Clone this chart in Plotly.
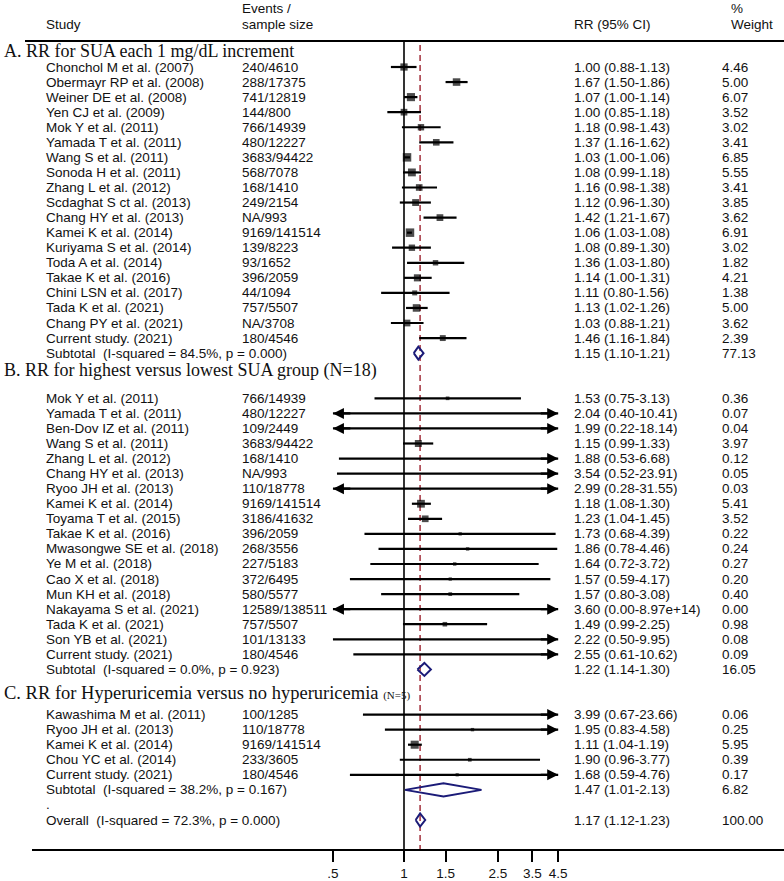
import math
import plotly.graph_objects as go

# ---------------- data ----------------
names_A = ["Chonchol M et al. (2007)", "Obermayr RP et al. (2008)", "Weiner DE et al. (2008)",
           "Yen CJ et al. (2009)", "Mok Y et al. (2011)", "Yamada T et al. (2011)",
           "Wang S et al. (2011)", "Sonoda H et al. (2011)", "Zhang L et al. (2012)",
           "Scdaghat S ct al. (2013)", "Chang HY et al. (2013)", "Kamei K et al. (2014)",
           "Kuriyama S et al. (2014)", "Toda A et al. (2014)", "Takae K et al. (2016)",
           "Chini LSN et al. (2017)", "Tada K et al. (2021)", "Chang PY et al. (2021)",
           "Current study. (2021)"]
events_A = ["240/4610", "288/17375", "741/12819", "144/800", "766/14939", "480/12227",
            "3683/94422", "568/7078", "168/1410", "249/2154", "NA/993", "9169/141514",
            "139/8223", "93/1652", "396/2059", "44/1094", "757/5507", "NA/3708", "180/4546"]
rr_A = [1.00, 1.67, 1.07, 1.00, 1.18, 1.37, 1.03, 1.08, 1.16, 1.12, 1.42, 1.06, 1.08, 1.36,
        1.14, 1.11, 1.13, 1.03, 1.46]
lo_A = [0.88, 1.50, 1.00, 0.85, 0.98, 1.16, 1.00, 0.99, 0.98, 0.96, 1.21, 1.03, 0.89, 1.03,
        1.00, 0.80, 1.02, 0.88, 1.16]
hi_A = [1.13, 1.86, 1.14, 1.18, 1.43, 1.62, 1.06, 1.18, 1.38, 1.30, 1.67, 1.08, 1.30, 1.80,
        1.31, 1.56, 1.26, 1.21, 1.84]
w_A = [4.46, 5.00, 6.07, 3.52, 3.02, 3.41, 6.85, 5.55, 3.41, 3.85, 3.62, 6.91, 3.02, 1.82,
       4.21, 1.38, 5.00, 3.62, 2.39]
sub_A = dict(rr=1.15, lo=1.10, hi=1.21, w=77.13, label="Subtotal  (I-squared = 84.5%, p = 0.000)")

names_B = ["Mok Y et al. (2011)", "Yamada T et al. (2011)", "Ben-Dov IZ et al. (2011)",
           "Wang S et al. (2011)", "Zhang L et al. (2012)", "Chang HY et al. (2013)",
           "Ryoo JH et al. (2013)", "Kamei K et al. (2014)", "Toyama T et al. (2015)",
           "Takae K et al. (2016)", "Mwasongwe SE et al. (2018)", "Ye M et al. (2018)",
           "Cao X et al. (2018)", "Mun KH et al. (2018)", "Nakayama S et al. (2021)",
           "Tada K et al. (2021)", "Son YB et al. (2021)", "Current study. (2021)"]
events_B = ["766/14939", "480/12227", "109/2449", "3683/94422", "168/1410", "NA/993",
            "110/18778", "9169/141514", "3186/41632", "396/2059", "268/3556", "227/5183",
            "372/6495", "580/5577", "12589/138511", "757/5507", "101/13133", "180/4546"]
rr_B = [1.53, 2.04, 1.99, 1.15, 1.88, 3.54, 2.99, 1.18, 1.23, 1.73, 1.86, 1.64, 1.57, 1.57,
        3.60, 1.49, 2.22, 2.55]
lo_B = [0.75, 0.40, 0.22, 0.99, 0.53, 0.52, 0.28, 1.08, 1.04, 0.68, 0.78, 0.72, 0.59, 0.80,
        0.00, 0.99, 0.50, 0.61]
hi_B = [3.13, 10.41, 18.14, 1.33, 6.68, 23.91, 31.55, 1.30, 1.45, 4.39, 4.46, 3.72, 4.17, 3.08,
        8.97e14, 2.25, 9.95, 10.62]
w_B = [0.36, 0.07, 0.04, 3.97, 0.12, 0.05, 0.03, 5.41, 3.52, 0.22, 0.24, 0.27, 0.20, 0.40,
       0.00, 0.98, 0.08, 0.09]
sub_B = dict(rr=1.22, lo=1.14, hi=1.30, w=16.05, label="Subtotal  (I-squared = 0.0%, p = 0.923)")

names_C = ["Kawashima M et al. (2011)", "Ryoo JH et al. (2013)", "Kamei K et al. (2014)",
           "Chou YC et al. (2014)", "Current study. (2021)"]
events_C = ["100/1285", "110/18778", "9169/141514", "233/3605", "180/4546"]
rr_C = [3.99, 1.95, 1.11, 1.90, 1.68]
lo_C = [0.67, 0.83, 1.04, 0.96, 0.59]
hi_C = [23.66, 4.58, 1.19, 3.77, 4.76]
w_C = [0.06, 0.25, 5.95, 0.39, 0.17]
sub_C = dict(rr=1.47, lo=1.01, hi=2.13, w=6.82, label="Subtotal  (I-squared = 38.2%, p = 0.167)")

overall = dict(rr=1.17, lo=1.12, hi=1.23, w=100.00, label="Overall  (I-squared = 72.3%, p = 0.000)")

header_A = "A. RR for SUA each 1 mg/dL increment"
header_B = "B. RR for highest versus lowest SUA group (N=18)"
header_C = "C. RR for Hyperuricemia versus no hyperuricemia "
header_C_small = "(N=5)"

tick_vals = [0.5, 1, 1.5, 2.5, 3.5, 4.5]
tick_text = [".5", "1", "1.5", "2.5", "3.5", "4.5"]
clip_lo, clip_hi = 0.5, 4.5

# ---------------- layout constants ----------------
W, H = 784, 881
PLOT_BOTTOM = 849
ROW0, DY = 67.0, 15.06
X_ONE, PX_LN = 404.0, 102.5
AX_LEFT = 32
X_NAME, X_EV, X_RR, X_W = 44, 240, 572, 720
SANS = "Liberation Sans, Arial, sans-serif"
SERIF = "Liberation Serif, Times New Roman, serif"
FS = 13.5
NAVY = "#1b1b78"
RED = "#a3303c"


def row_y(r):
    return ROW0 + r * DY


def px_to_log10(px):
    return (px - X_ONE) / PX_LN / math.log(10)


def fmt_ci(rr, lo, hi):
    h = f"{hi:.2e}" if hi >= 1000 else f"{hi:.2f}"
    return f"{rr:.2f} ({lo:.2f}-{h})"


fig = go.Figure()
ann = []


def text(x, y, s, size=FS, family=SANS):
    ann.append(dict(x=x / W, xref="paper", y=y, yref="y", text=s, showarrow=False,
                    xanchor="left", yanchor="middle",
                    font=dict(family=family, size=size, color="#111")))


def study_rows(names, events, rr, lo, hi, w, r0):
    xs, ys, sizes = [], [], []
    for i in range(len(names)):
        y = row_y(r0 + i)
        text(X_NAME, y, names[i])
        text(X_EV, y, events[i])
        text(X_RR, y, fmt_ci(rr[i], lo[i], hi[i]))
        text(X_W, y, f"{w[i]:.2f}")
        a = max(lo[i], clip_lo)
        b = min(hi[i], clip_hi)
        fig.add_trace(go.Scatter(x=[a, b], y=[y, y], mode="lines",
                                 line=dict(color="black", width=2.2), hoverinfo="skip",
                                 showlegend=False))
        if lo[i] < clip_lo:
            ann.append(dict(x=math.log10(clip_lo), y=y, ax=math.log10(clip_lo) + 0.08, ay=y,
                            xref="x", yref="y", axref="x", ayref="y", text="",
                            showarrow=True, arrowhead=2, arrowsize=1, arrowwidth=2.2,
                            arrowcolor="black"))
        if hi[i] > clip_hi:
            ann.append(dict(x=math.log10(clip_hi), y=y, ax=math.log10(clip_hi) - 0.08, ay=y,
                            xref="x", yref="y", axref="x", ayref="y", text="",
                            showarrow=True, arrowhead=2, arrowsize=1, arrowwidth=2.2,
                            arrowcolor="black"))
        if w[i] >= 0.15:
            xs.append(rr[i])
            ys.append(y)
            sizes.append(2.2 + 2.4 * math.sqrt(w[i]))
    fig.add_trace(go.Scatter(x=xs, y=ys, mode="markers",
                             marker=dict(symbol="square", color="black", size=sizes,
                                         line=dict(width=0)),
                             hoverinfo="skip", showlegend=False))


def diamond(d, r):
    y = row_y(r)
    hh = 6.5
    fig.add_trace(go.Scatter(x=[d["lo"], d["rr"], d["hi"], d["rr"], d["lo"]],
                             y=[y, y - hh, y, y + hh, y], mode="lines",
                             line=dict(color=NAVY, width=2), hoverinfo="skip",
                             showlegend=False))
    text(X_NAME, y, d["label"])
    text(X_RR, y, fmt_ci(d["rr"], d["lo"], d["hi"]))
    text(X_W, y, f"{d['w']:.2f}")


# reference lines
fig.add_trace(go.Scatter(x=[1, 1], y=[41, PLOT_BOTTOM], mode="lines",
                         line=dict(color="black", width=1.6), hoverinfo="skip", showlegend=False))
fig.add_trace(go.Scatter(x=[overall["rr"], overall["rr"]], y=[45, PLOT_BOTTOM], mode="lines",
                         line=dict(color=RED, width=1.5, dash="6px,4px"), hoverinfo="skip",
                         showlegend=False))

# headers
text(X_NAME, 24, "Study")
text(X_EV, 8, "Events /")
text(X_EV, 24, "sample size")
text(X_RR, 24, "RR (95% CI)")
text(729, 8, "%")
text(729, 24, "Weight")

# section A
text(2, 51, header_A, size=18, family=SERIF)
study_rows(names_A, events_A, rr_A, lo_A, hi_A, w_A, 0)
diamond(sub_A, len(names_A))

# section B
rB = len(names_A) + 1
text(2, row_y(rB) + 2, header_B, size=18, family=SERIF)
study_rows(names_B, events_B, rr_B, lo_B, hi_B, w_B, rB + 2)
rSubB = rB + 2 + len(names_B)
diamond(sub_B, rSubB)

# section C
text(2, row_y(rSubB + 1.55), header_C + f"<span style='font-size:11px'>{header_C_small}</span>",
     size=18.5, family=SERIF)
rC = rSubB + 3
study_rows(names_C, events_C, rr_C, lo_C, hi_C, w_C, rC)
rSubC = rC + len(names_C)
diamond(sub_C, rSubC)
text(X_NAME, row_y(rSubC + 1), ".")
diamond(overall, rSubC + 2)

fig.update_layout(
    width=W, height=H,
    margin=dict(l=0, r=0, t=0, b=H - PLOT_BOTTOM),
    paper_bgcolor="white", plot_bgcolor="white",
    annotations=ann,
    shapes=[dict(type="line", xref="paper", yref="y", x0=25 / W, x1=1, y0=41, y1=41,
                 line=dict(color="black", width=2))],
    xaxis=dict(type="log", domain=[AX_LEFT / W, 1],
               range=[px_to_log10(AX_LEFT), px_to_log10(W)],
               tickvals=tick_vals, ticktext=tick_text,
               ticks="outside", ticklen=11, tickwidth=2, tickcolor="black",
               showline=True, linecolor="black", linewidth=2,
               showgrid=False, zeroline=False,
               tickfont=dict(family=SANS, size=FS, color="#111")),
    yaxis=dict(visible=False, range=[PLOT_BOTTOM, 0], showgrid=False, zeroline=False),
    showlegend=False,
)

fig.write_html("out.html", config={"displayModeBar": False},
               post_script="document.body.style.margin='0';document.body.style.overflow='hidden';")
